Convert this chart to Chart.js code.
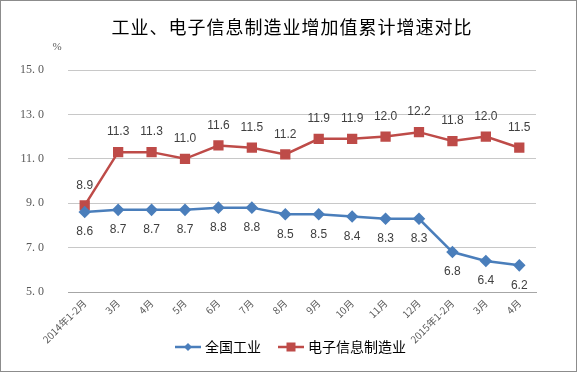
<!DOCTYPE html>
<html><head><meta charset="utf-8">
<script src="https://cdn.jsdelivr.net/npm/chart.js@4/dist/chart.umd.min.js"></script>
<style>html,body{margin:0;padding:0;background:#fff}#wrap{width:577px;height:372px;position:relative}</style>
</head><body><div id="wrap"><canvas id="c" width="577" height="372"></canvas></div>
<script>
const categories = ['2014年1-2月','3月','4月','5月','6月','7月','8月','9月','10月','11月','12月','2015年1-2月','3月','4月'];
const industry = [8.6,8.7,8.7,8.7,8.8,8.8,8.5,8.5,8.4,8.3,8.3,6.8,6.4,6.2];
const electronics = [8.9,11.3,11.3,11.0,11.6,11.5,11.2,11.9,11.9,12.0,12.2,11.8,12.0,11.5];
const seriesNames = ['全国工业','电子信息制造业'];
const titleText = '工业、电子信息制造业增加值累计增速对比';
const unitText = '%';
const BLUE = '#4A7EBB', RED = '#BE4B48';
const CJK = '"Noto Sans CJK SC", sans-serif';

function drawIcon(g, x, y, color, style){
  g.save();
  g.strokeStyle = color; g.lineWidth = 2.5;
  g.beginPath(); g.moveTo(x, y); g.lineTo(x + 26, y); g.stroke();
  g.fillStyle = color;
  const cx = x + 13;
  if (style === 'diamond'){ g.beginPath(); g.moveTo(cx, y-4); g.lineTo(cx+4, y); g.lineTo(cx, y+4); g.lineTo(cx-4, y); g.closePath(); g.fill(); }
  else { g.fillRect(cx-4.5, y-4.5, 9, 9); }
  g.restore();
}

const extras = {
  id: 'extras',
  beforeDraw(chart){
    const c = chart.ctx; c.save();
    c.fillStyle = '#fff'; c.fillRect(0,0,chart.width,chart.height);
    c.strokeStyle = '#8c8c8c'; c.lineWidth = 1;
    c.strokeRect(0.5,0.5,chart.width-1,chart.height-1);
    c.restore();
  },
  afterDraw(chart){
    const c = chart.ctx; c.save();
    // title
    c.font = '18px ' + CJK; c.fillStyle = '#000';
    c.letterSpacing = '1px';
    c.textAlign = 'center'; c.textBaseline = 'middle';
    c.fillText(titleText, 292, 27);
    c.letterSpacing = '0px';
    // unit
    c.font = '11px "Liberation Serif", serif';
    c.fillStyle = '#595959';
    c.fillText(unitText, 57, 47);
    // legend
    c.font = '14px ' + CJK; c.fillStyle = '#000'; c.textAlign = 'left';
    const styles = ['diamond','rect'], colors = [BLUE, RED];
    let x = 175; const y = 347;
    seriesNames.forEach((n, i) => {
      drawIcon(c, x, y, colors[i], styles[i]);
      c.fillText(n, x + 30, y);
      x += 30 + c.measureText(n).width + 17;
    });
    c.restore();
  },
  afterDatasetsDraw(chart){
    const c = chart.ctx; c.save();
    c.font = '12px "Liberation Sans", Arial, sans-serif';
    c.fillStyle = '#404040'; c.textAlign = 'center'; c.textBaseline = 'middle';
    chart.data.datasets.forEach((ds, i) => {
      const meta = chart.getDatasetMeta(i);
      meta.data.forEach((pt, j) => {
        const dy = i === 0 ? 20 : -20;
        c.fillText(ds.data[j].toFixed(1), pt.x, pt.y + dy);
      });
    });
    c.restore();
  }
};

new Chart(document.getElementById('c'), {
  type: 'line',
  data: {
    labels: categories,
    datasets: [
      { label: seriesNames[0], data: industry, borderColor: BLUE, backgroundColor: BLUE, borderWidth: 2.5,
        pointStyle: 'rectRot', pointRadius: 4.5, pointHoverRadius: 4.5, tension: 0 },
      { label: seriesNames[1], data: electronics, borderColor: RED, backgroundColor: RED, borderWidth: 2.5,
        pointStyle: 'rect', pointRadius: 5.5, pointHoverRadius: 5.5, tension: 0 }
    ]
  },
  options: {
    responsive: false, animation: false,
    layout: { padding: { left: 0, right: 41, top: 70, bottom: 0 } },
    plugins: { title: { display: false }, legend: { display: false }, tooltip: { enabled: false } },
    scales: {
      x: { offset: true,
        grid: { display: false, drawTicks: false },
        border: { display: true, color: '#a6a6a6', width: 1 },
        ticks: { color: '#595959', font: { family: CJK, size: 10 }, maxRotation: 45, minRotation: 45, autoSkip: false, padding: 5 },
        afterFit(s){ s.height = 80; } },
      y: { min: 5, max: 15,
        grid: { color: '#c8c8c8', lineWidth: 1, drawTicks: false },
        border: { display: false },
        ticks: { stepSize: 2, color: '#595959', font: { family: '"Liberation Serif", serif', size: 12 }, padding: 24,
          callback: v => v.toFixed(1).replace('.', '. ') },
        afterFit(s){ s.width = 68; } }
    }
  },
  plugins: [extras]
});
</script></body></html>
